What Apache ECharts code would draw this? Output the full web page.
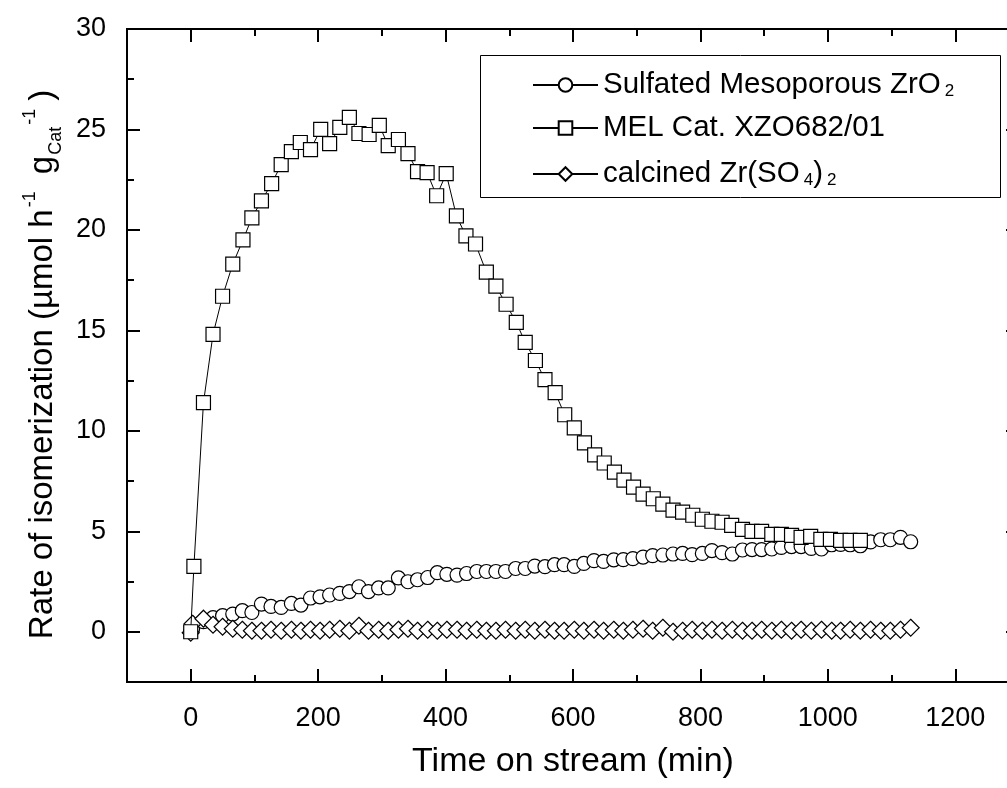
<!DOCTYPE html>
<html><head><meta charset="utf-8">
<script src="https://cdn.jsdelivr.net/npm/echarts@6/dist/echarts.min.js"></script>
<style>html,body{margin:0;padding:0;background:#fff}#c{width:1007px;height:788px}</style>
</head><body><div id="c"></div>
<script>
// ---- tick values ----
const xMajorTicks = [0, 200, 400, 600, 800, 1000, 1200];
const xMinorTicks = [100, 300, 500, 700, 900, 1100];
const yMajorTicks = [0, 5, 10, 15, 20, 25, 30];
const yMinorTicks = [2.5, 7.5, 12.5, 17.5, 22.5, 27.5];

// ---- series names ----
const nameCircles = 'Sulfated Mesoporous ZrO2';
const nameSquares = 'MEL Cat. XZO682/01';
const nameDiamonds = 'calcined Zr(SO4)2';

// ---- Sulfated Mesoporous ZrO2 (circles) ----
const timeCircles = [0,3,20,35,50,66,81,96,111,126,
  142,158,173,188,203,218,234,249,264,279,
  295,310,326,341,356,372,387,402,418,433,
  449,464,479,494,510,525,540,556,571,586,
  602,617,633,648,664,679,694,710,725,741,
  757,772,787,803,818,834,850,866,881,896,
  912,927,943,958,974,990,1006,1020,1035,1051,
  1067,1083,1098,1114,1130];
const rateCircles = [0.0,0.15,0.5,0.7,0.8,0.88,1.05,0.96,1.38,1.26,
  1.21,1.41,1.33,1.68,1.74,1.83,1.91,2.0,2.24,2.0,
  2.18,2.18,2.68,2.49,2.59,2.7,2.94,2.86,2.82,2.9,
  3.0,3.0,3.0,3.0,3.15,3.15,3.27,3.24,3.34,3.34,
  3.25,3.4,3.54,3.5,3.58,3.59,3.64,3.72,3.79,3.82,
  3.87,3.9,3.84,3.9,4.04,3.94,3.87,4.07,4.09,4.09,
  4.12,4.2,4.24,4.24,4.15,4.12,4.33,4.35,4.33,4.28,
  4.47,4.58,4.58,4.7,4.48];

// ---- MEL Cat. XZO682/01 (squares) ----
const timeSquares = [0,5,20,35,50,66,82,96,111,127,142,
  158,172,188,204,218,234,249,264,280,296,
  310,326,341,356,371,386,401,417,432,447,
  464,479,495,511,525,541,556,572,587,602,
  618,634,649,665,680,695,710,726,741,757,
  772,788,803,818,834,849,866,881,896,912,
  927,943,958,973,989,1004,1020,1035,1051];
const rateSquares = [0.0,3.25,11.4,14.8,16.7,18.3,19.5,20.6,21.45,22.3,23.25,
  23.9,24.35,24.0,25.0,24.3,25.1,25.6,24.8,24.75,25.2,
  24.2,24.5,23.8,22.9,22.85,21.7,22.8,20.7,19.7,19.3,
  17.9,17.2,16.3,15.4,14.4,13.5,12.55,11.9,10.8,10.15,
  9.4,8.8,8.4,7.95,7.55,7.2,6.85,6.62,6.35,6.05,
  5.95,5.8,5.6,5.5,5.45,5.3,5.1,5.0,5.0,4.85,
  4.85,4.8,4.7,4.75,4.6,4.6,4.55,4.55,4.55];

// ---- calcined Zr(SO4)2 (diamonds) ----
const timeDiamonds = timeCircles;
const rateDiamonds = [-0.05,0.4,0.65,0.35,0.25,0.15,0.1,0.05,0.05,0.1,
  0.05,0.1,0.05,0.1,0.05,0.1,0.15,0.05,0.3,0.05,
  0.1,0.05,0.1,0.15,0.05,0.1,0.05,0.1,0.1,0.05,
  0.1,0.05,0.05,0.1,0.05,0.1,0.05,0.1,0.05,0.05,
  0.1,0.05,0.1,0.05,0.1,0.05,0.1,0.15,0.05,0.2,
  0.0,0.05,0.1,0.05,0.1,0.05,0.1,0.05,0.05,0.1,
  0.05,0.1,0.05,0.1,0.05,0.1,0.05,0.05,0.1,0.05,
  0.1,0.05,0.05,0.1,0.2];

const zip = (xs, ys) => xs.map((x, i) => [x, ys[i]]);
const FONT = 'Liberation Sans, Arial, sans-serif';
const X_MIN = -100, X_MAX = 1300, Y_MIN = -2.5, Y_MAX = 30;

function xAxisDef(position, ticks, len, withLabels) {
  return {
    type: 'value', position: position, min: X_MIN, max: X_MAX,
    splitLine: {show: false},
    axisLine: {show: true, onZero: false, lineStyle: {color: '#000', width: 2}},
    axisTick: {show: true, inside: true, length: len, customValues: ticks, lineStyle: {color: '#000', width: 2}},
    axisLabel: withLabels ? {show: true, customValues: ticks, margin: 23, color: '#000', fontSize: 27, fontFamily: FONT,
      formatter: (v) => String(v)} : {show: false},
    name: withLabels ? 'Time on stream (min)' : '',
    nameLocation: 'middle', nameGap: 63,
    nameTextStyle: {color: '#000', fontSize: 34, fontFamily: FONT}
  };
}
function yAxisDef(position, ticks, len, withLabels) {
  return {
    type: 'value', position: position, min: Y_MIN, max: Y_MAX,
    splitLine: {show: false},
    axisLine: {show: true, onZero: false, lineStyle: {color: '#000', width: 2}},
    axisTick: {show: true, inside: true, length: len, customValues: ticks, lineStyle: {color: '#000', width: 2}},
    axisLabel: withLabels ? {show: true, customValues: ticks, margin: 21, color: '#000', fontSize: 27, fontFamily: FONT,
      formatter: (v) => String(v)} : {show: false},
    name: withLabels ? 'Rate of isomerization (µmol h{sup|-1} g{sub|Cat}{sup|-1})' : '',
    nameLocation: 'middle', nameGap: 53, nameRotate: 90,
    nameTextStyle: {color: '#000', fontSize: 33, fontFamily: FONT, lineHeight: 44, padding: [0, 18, 0, 0],
      rich: {
        sup: {fontSize: 18, fontFamily: FONT, color: '#000', verticalAlign: 'top', lineHeight: 44, padding: [0, 8, 12, 2]},
        sub: {fontSize: 18, fontFamily: FONT, color: '#000', verticalAlign: 'bottom', lineHeight: 44, padding: [12, 0, 0, 1]}
      }}
  };
}

const legendRich = {
  [nameCircles]: 'Sulfated Mesoporous ZrO{sub|2}',
  [nameSquares]: 'MEL Cat. XZO682/01',
  [nameDiamonds]: 'calcined Zr(SO{sub|4}){sub|2}'
};

const lineBase = {
  type: 'line', xAxisIndex: 0, yAxisIndex: 0,
  lineStyle: {color: '#000', width: 1},
  itemStyle: {color: '#fff', borderColor: '#000', borderWidth: 1.2},
  showSymbol: true, animation: false, z: 3
};

const chart = echarts.init(document.getElementById('c'), null, {renderer: 'canvas'});
chart.setOption({
  animation: false,
  backgroundColor: '#fff',
  grid: {left: 127, top: 29, width: 892, height: 653, containLabel: false, outerBoundsMode: 'none'},
  xAxis: [
    xAxisDef('bottom', xMajorTicks, 13, true),
    xAxisDef('bottom', xMinorTicks, 7, false),
    xAxisDef('top', xMajorTicks, 13, false),
    xAxisDef('top', xMinorTicks, 7, false)
  ],
  yAxis: [
    yAxisDef('left', yMajorTicks, 13, true),
    yAxisDef('left', yMinorTicks, 7, false),
    yAxisDef('right', yMajorTicks, 13, false),
    yAxisDef('right', yMinorTicks, 7, false)
  ],
  graphic: [{
    type: 'rect', left: 480, top: 55, z: 10,
    shape: {width: 520, height: 142},
    style: {fill: 'rgba(0,0,0,0)', stroke: '#000', lineWidth: 1}
  }],
  legend: {
    orient: 'vertical', left: 527, top: 62,
    data: [nameCircles, nameSquares, nameDiamonds],
    itemWidth: 65, itemHeight: 17, itemGap: 13,
    formatter: (n) => legendRich[n],
    textStyle: {color: '#000', fontSize: 29.5, fontFamily: FONT, lineHeight: 30,
      rich: {sub: {fontSize: 17, fontFamily: FONT, color: '#000', verticalAlign: 'bottom', lineHeight: 14, padding: [16, 0, 0, 4]}}},
    selectedMode: false
  },
  series: [
    Object.assign({}, lineBase, {name: nameCircles, symbol: 'circle', symbolSize: 14, z: 2,
      data: zip(timeCircles, rateCircles)}),
    Object.assign({}, lineBase, {name: nameDiamonds, symbol: 'diamond', symbolSize: 17, z: 3,
      data: zip(timeDiamonds, rateDiamonds)}),
    Object.assign({}, lineBase, {name: nameSquares, symbol: 'rect', symbolSize: 14, z: 4,
      data: zip(timeSquares, rateSquares)})
  ]
});
</script></body></html>
